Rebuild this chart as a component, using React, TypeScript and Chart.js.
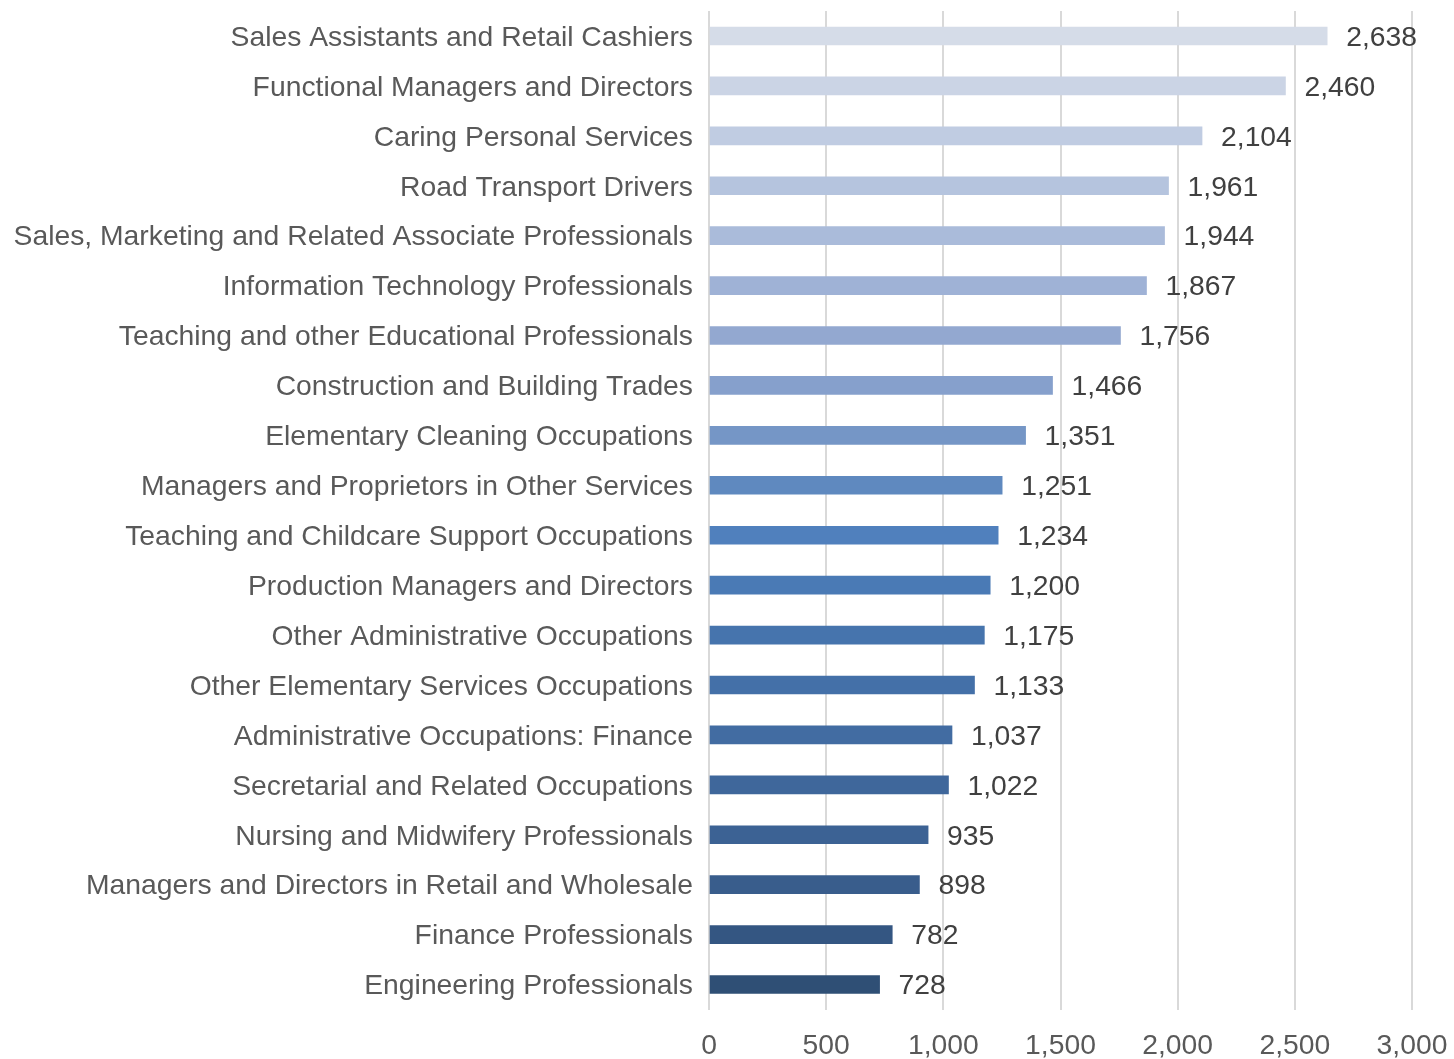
import React, { useEffect, useRef } from "react";
import { Chart, registerables } from "chart.js";

Chart.register(...registerables);

const categories: string[] = [
  "Sales Assistants and Retail Cashiers",
  "Functional Managers and Directors",
  "Caring Personal Services",
  "Road Transport Drivers",
  "Sales, Marketing and Related Associate Professionals",
  "Information Technology Professionals",
  "Teaching and other Educational Professionals",
  "Construction and Building Trades",
  "Elementary Cleaning Occupations",
  "Managers and Proprietors in Other Services",
  "Teaching and Childcare Support Occupations",
  "Production Managers and Directors",
  "Other Administrative Occupations",
  "Other Elementary Services Occupations",
  "Administrative Occupations: Finance",
  "Secretarial and Related Occupations",
  "Nursing and Midwifery Professionals",
  "Managers and Directors in Retail and Wholesale",
  "Finance Professionals",
  "Engineering Professionals",
];

const values: number[] = [
  2638, 2460, 2104, 1961, 1944, 1867, 1756, 1466, 1351, 1251, 1234, 1200, 1175,
  1133, 1037, 1022, 935, 898, 782, 728,
];

const xTickMax = 3000;
const xTickStep = 500;

const barColors: string[] = [
  "#d5dce8", "#cbd4e5", "#c0cce2", "#b5c4de", "#aabbda",
  "#9fb2d6", "#93a8d0", "#86a0cc", "#7596c6", "#5f89bf",
  "#5080bd", "#4a7ab5", "#4674ad", "#4470a8", "#426ca2",
  "#3f679b", "#3c6294", "#395d8c", "#345682", "#2f4f75",
];

const FONT = "Arial, 'Liberation Sans', sans-serif";
const FONT_SIZE = 28.3;

const valueLabelPlugin = {
  id: "valueLabels",
  afterDatasetsDraw(chart: any) {
    const ctx = chart.ctx;
    const meta = chart.getDatasetMeta(0);
    ctx.save();
    ctx.font = `${FONT_SIZE}px ${FONT}`;
    ctx.fillStyle = "#404040";
    ctx.textAlign = "left";
    ctx.textBaseline = "middle";
    meta.data.forEach((bar: any, i: number) => {
      const v = values[i];
      ctx.fillText(v.toLocaleString("en-US"), bar.x + 19, bar.y + 2);
    });
    ctx.restore();
  },
};

const zeroPad = (scale: any) => {
  scale.paddingLeft = 0;
  scale.paddingRight = 0;
  scale.paddingTop = 0;
  scale.paddingBottom = 0;
};

export default function App() {
  const ref = useRef<HTMLCanvasElement | null>(null);

  useEffect(() => {
    document.body.style.margin = "0";
    if (!ref.current) return;
    const chart = new Chart(ref.current, {
      type: "bar",
      data: {
        labels: categories,
        datasets: [
          {
            data: values,
            backgroundColor: barColors,
            barThickness: 18,
          },
        ],
      },
      options: {
        indexAxis: "y",
        animation: false,
        responsive: false,
        maintainAspectRatio: false,
        layout: { padding: { top: 11, right: 42, left: 0, bottom: 0 } },
        plugins: {
          legend: { display: false },
          tooltip: { enabled: false },
        },
        scales: {
          x: {
            min: 0,
            max: xTickMax,
            ticks: {
              stepSize: xTickStep,
              font: { size: FONT_SIZE, family: FONT },
              color: "#595959",
              padding: 20,
              maxRotation: 0,
            },
            grid: { color: "#d9d9d9", lineWidth: 2, drawTicks: false },
            border: { display: false },
            afterFit: (scale: any) => {
              scale.height = 1059 - 1009.5;
              zeroPad(scale);
            },
          },
          y: {
            ticks: {
              font: { size: FONT_SIZE, family: FONT },
              color: "#595959",
              padding: 16,
              labelOffset: 2,
              autoSkip: false,
            },
            grid: { display: false, drawTicks: false },
            border: { display: false },
            afterFit: (scale: any) => {
              scale.width = 709;
              zeroPad(scale);
            },
          },
        },
      },
      plugins: [valueLabelPlugin],
    });
    return () => chart.destroy();
  }, []);

  return (
    <div style={{ width: 1454, height: 1059 }}>
      <canvas ref={ref} width={1454} height={1059} style={{ display: "block" }} />
    </div>
  );
}
